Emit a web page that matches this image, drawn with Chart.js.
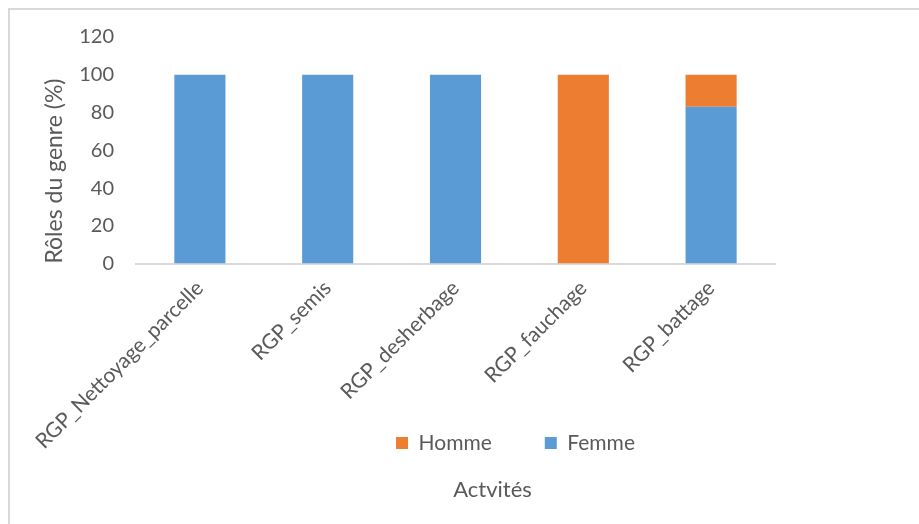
<!DOCTYPE html>
<html lang="fr">
<head>
<meta charset="utf-8">
<title>Rôles du genre par activité</title>
<script src="https://cdn.jsdelivr.net/npm/chart.js@4.4.1/dist/chart.umd.min.js"></script>
<style>
  html, body { margin: 0; padding: 0; background: #fff; overflow: hidden; }
  #wrap { position: relative; width: 919px; height: 524px; }
  #cadre { position: absolute; left: 8px; top: 8px; width: 1000px; height: 1000px;
           border: 2px solid #d9d9d9; box-sizing: border-box; }
  canvas { position: absolute; left: 0; top: 0; }
</style>
</head>
<body>
<div id="wrap">
  <div id="cadre"></div>
  <canvas id="graphe" width="919" height="524"></canvas>
</div>
<script>
const activites = ['RGP_Nettoyage_parcelle', 'RGP_semis', 'RGP_desherbage', 'RGP_fauchage', 'RGP_battage']
const femme = [100, 100, 100, 0, 83]
const homme = [0, 0, 0, 100, 17]
const ticksY = [0, 20, 40, 60, 80, 100, 120]

const gris = '#595959'

// la légende et le titre du bas ne sont pas centrés sur la zone du graphe
const decalage = {
  id: 'decalage',
  afterLayout(chart) {
    const lg = chart.legend, tt = chart.titleBlock
    const dl = 515.5 - (lg.left + lg.right) / 2
    lg.left += dl; lg.right += dl
    const dt = 492.5 - (tt.left + tt.right) / 2
    tt.left += dt; tt.right += dt
  }
}

const ctx = document.getElementById('graphe').getContext('2d')
const graphe = new Chart(ctx, {
  type: 'bar',
  data: {
    labels: activites,
    datasets: [
      { label: 'Femme', data: femme, backgroundColor: '#5b9bd5', categoryPercentage: 1, barPercentage: 0.4 },
      { label: 'Homme', data: homme, backgroundColor: '#ed7d31', categoryPercentage: 1, barPercentage: 0.4 }
    ]
  },
  plugins: [decalage],
  options: {
    responsive: false,
    animation: false,
    layout: { padding: { left: 30, top: 37, right: 144, bottom: 12 } },
    scales: {
      x: {
        stacked: true,
        grid: { display: false, drawTicks: false },
        border: { display: true, color: '#d9d9d9', width: 2 },
        ticks: { color: gris, font: { family: 'Lato', size: 21 }, minRotation: 45, maxRotation: 45, padding: 12 },
        afterFit: (s) => {
          s.height = 116
          // les étiquettes inclinées débordent sous l'axe : pas de découpe
          s._computeLabelArea = () => undefined
        }
      },
      y: {
        stacked: true,
        min: 0,
        max: 120,
        afterBuildTicks: (s) => { s.ticks = ticksY.map(v => ({ value: v })) },
        grid: { display: false, drawTicks: false },
        border: { display: false },
        ticks: { color: gris, font: { family: 'Lato', size: 20 }, padding: 22 },
        title: { display: true, text: 'Rôles du genre (%)', color: gris, font: { family: 'Lato', size: 23 }, align: 'start', padding: 11 },
        afterFit: (s) => { s.width = 106 }
      }
    },
    plugins: {
      legend: {
        position: 'bottom',
        reverse: true,
        labels: { color: gris, font: { family: 'Lato', size: 21 }, boxWidth: 12, boxHeight: 12, padding: 53 }
      },
      title: {
        display: true,
        position: 'bottom',
        text: 'Actvités',
        color: gris,
        font: { family: 'Lato', size: 22, weight: 'normal' },
        padding: { top: 13, bottom: 9 }
      },
      tooltip: { enabled: false }
    }
  }
})
</script>
</body>
</html>
